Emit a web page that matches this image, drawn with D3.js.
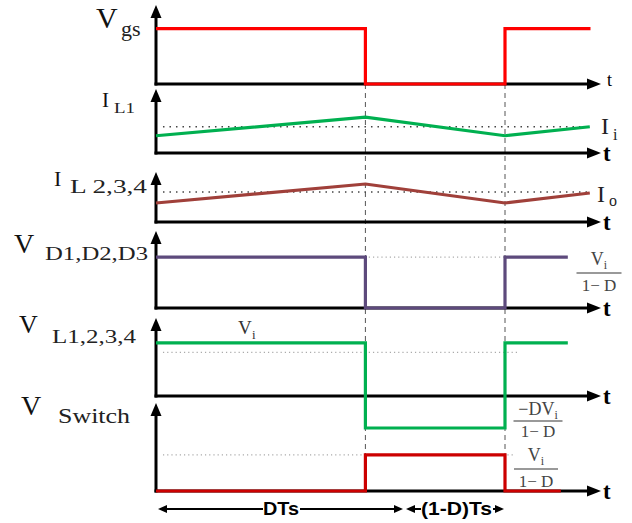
<!DOCTYPE html>
<html>
<head>
<meta charset="utf-8">
<script src="https://cdn.jsdelivr.net/npm/d3@7"></script>
<style>
  body { margin: 0; background: #fff; }
  svg { display: block; }
  .serif { font-family: "Liberation Serif", "DejaVu Serif", serif; }
  .dim { font-family: "Liberation Sans", Arial, sans-serif; font-weight: bold; }
</style>
</head>
<body>
<svg id="chart" width="632" height="523"></svg>
<script>
/* global d3 */

// time in units of the switching period T, duty D = 0.6
const edges = [0.6, 1.0];

const vgsT = [0, 0.6, 0.6, 1.0, 1.0, 1.245];
const vgsV = [0.70, 0.70, 0, 0, 0.70, 0.70];

const iL1T = [0, 0.6, 1.0, 1.243];
const iL1V = [0.27, 0.56, 0.27, 0.41];
const iiLevel = 0.41;

const iL2T = [0, 0.6, 1.0, 1.243];
const iL2V = [0.38, 0.76, 0.38, 0.58];
const ioLevel = 0.60;

const vDT = [0, 0.6, 0.6, 1.0, 1.0, 1.18];
const vDV = [0.66, 0.66, 0, 0, 0.66, 0.66];

const vLT = [0, 0.6, 0.6, 1.0, 1.0, 1.18];
const vLV = [0.68, 0.68, -0.41, -0.41, 0.68, 0.68];
const vLLevel = 0.56;

const vSwT = [0, 0.6, 0.6, 1.0, 1.0, 1.16];
const vSwV = [0, 0, 0.41, 0.41, 0, 0];

var svg = d3.select('#chart');

var x = d3.scaleLinear().domain([0, 1]).range([156, 505]);
var axisEnd = 601;

// each panel: y-axis arrow tip and baseline
var panels = [
  { top: 5, base: 84 },
  { top: 89, base: 153 },
  { top: 172, base: 222 },
  { top: 231, base: 308 },
  { top: 318, base: 396 },
  { top: 403, base: 491 }
];
panels.forEach(p => { p.y = d3.scaleLinear().domain([0, 1]).range([p.base, p.top]); });

var line = (p) => d3.line().x(d => x(d[0])).y(d => p.y(d[1]));

// dashed switching instants
svg.selectAll('line.edge')
  .data(edges)
  .enter().append('line')
  .attr('class', 'edge')
  .attr('x1', d => x(d)).attr('x2', d => x(d))
  .attr('y1', panels[0].base).attr('y2', d => d === 1.0 ? panels[5].y(0.41) : panels[5].base)
  .attr('stroke', '#555').attr('stroke-width', 1)
  .attr('stroke-dasharray', '5,4');

// reference levels (dotted)
var levels = [
  { p: 1, v: iiLevel, t0: 0.02, t1: 1.245, c: '#444', dash: '1.5,5', w: 1.5 },
  { p: 2, v: ioLevel, t0: 0.02, t1: 1.245, c: '#444', dash: '1.5,5', w: 1.5 },
  { p: 3, v: 0.66, t0: 0.02, t1: 1.037, c: '#aaa', dash: '1.2,3', w: 1.2 },
  { p: 4, v: vLLevel, t0: 0.02, t1: 1.037, c: '#aaa', dash: '1.2,3', w: 1.2 },
  { p: 5, v: 0.41, t0: 0.02, t1: 1.03, c: '#aaa', dash: '1.2,3', w: 1.2 }
];
svg.selectAll('line.level')
  .data(levels)
  .enter().append('line')
  .attr('class', 'level')
  .attr('x1', d => x(d.t0)).attr('x2', d => x(d.t1))
  .attr('y1', d => panels[d.p].y(d.v)).attr('y2', d => panels[d.p].y(d.v))
  .attr('stroke', d => d.c).attr('stroke-width', d => d.w)
  .attr('stroke-dasharray', d => d.dash);

// axes with arrow heads
panels.forEach(p => {
  var g = svg.append('g');
  g.append('line')
    .attr('x1', x(0)).attr('x2', x(0))
    .attr('y1', p.base + 1.5).attr('y2', p.top + 10)
    .attr('stroke', '#000').attr('stroke-width', 3);
  g.append('path')
    .attr('d', `M${x(0)},${p.top} L${x(0) - 5.5},${p.top + 13} L${x(0) + 5.5},${p.top + 13} Z`)
    .attr('fill', '#000');
  g.append('line')
    .attr('x1', x(0) - 1.5).attr('x2', axisEnd - 10)
    .attr('y1', p.base).attr('y2', p.base)
    .attr('stroke', '#000').attr('stroke-width', 3);
  g.append('path')
    .attr('d', `M${axisEnd},${p.base} L${axisEnd - 14},${p.base - 5.5} L${axisEnd - 14},${p.base + 5.5} Z`)
    .attr('fill', '#000');
});

// waveforms
var series = [
  { p: 0, t: vgsT, v: vgsV, c: '#ff0000' },
  { p: 1, t: iL1T, v: iL1V, c: '#00b050' },
  { p: 2, t: iL2T, v: iL2V, c: '#a0403a' },
  { p: 3, t: vDT, v: vDV, c: '#5d4a7c' },
  { p: 4, t: vLT, v: vLV, c: '#00b050' },
  { p: 5, t: vSwT, v: vSwV, c: '#cc0000' }
];
svg.selectAll('path.wave')
  .data(series)
  .enter().append('path')
  .attr('class', 'wave')
  .attr('d', d => line(panels[d.p])(d.t.map((t, i) => [t, d.v[i]])))
  .attr('fill', 'none')
  .attr('stroke', d => d.c)
  .attr('stroke-width', 3.2)
  .attr('stroke-linejoin', 'miter');

// left labels: main letter + subscript
var labels = [
  { m: 'V', mx: 96, my: 28, ms: 30, s: 'gs', sx: 121, sy: 36, ss: 22 },
  { m: 'I', mx: 102, my: 107, ms: 21, s: 'L1', sx: 114, sy: 113, ss: 15, sl: 21 },
  { m: 'I', mx: 54, my: 186, ms: 22, s: 'L 2,3,4', sx: 70, sy: 193, ss: 19, sl: 77 },
  { m: 'V', mx: 14, my: 253, ms: 28, s: 'D1,D2,D3', sx: 45, sy: 260, ss: 19, sl: 103 },
  { m: 'V', mx: 19, my: 333, ms: 26, s: 'L1,2,3,4', sx: 52, sy: 343, ss: 19, sl: 84 },
  { m: 'V', mx: 21, my: 415, ms: 28, s: 'Switch', sx: 58, sy: 423, ss: 22, sl: 72 }
];
labels.forEach(l => {
  svg.append('text').attr('class', 'serif')
    .attr('x', l.mx).attr('y', l.my).attr('font-size', l.ms).attr('fill', '#111')
    .text(l.m);
  var s = svg.append('text').attr('class', 'serif')
    .attr('x', l.sx).attr('y', l.sy).attr('font-size', l.ss).attr('fill', '#222')
    .text(l.s);
  if (l.sl) s.attr('textLength', l.sl).attr('lengthAdjust', 'spacingAndGlyphs');
});

// "t" at the end of every time axis
svg.selectAll('text.t')
  .data(panels)
  .enter().append('text')
  .attr('class', 'serif t')
  .attr('x', (d, i) => i === 0 ? 607 : 603)
  .attr('y', (d, i) => i === 0 ? d.base + 2 : d.base + 8)
  .attr('font-size', (d, i) => i === 0 ? 18 : 23)
  .attr('font-weight', (d, i) => i === 0 ? 'normal' : 'bold')
  .text('t');

// right-hand current labels
function subLabel(main, sub, mx, my, ms, sx, sy, ss, fill) {
  svg.append('text').attr('class', 'serif').attr('x', mx).attr('y', my)
    .attr('font-size', ms).attr('fill', fill).text(main);
  svg.append('text').attr('class', 'serif').attr('x', sx).attr('y', sy)
    .attr('font-size', ss).attr('fill', fill).text(sub);
}
subLabel('I', 'i', 601, 134, 24, 613, 140, 16, '#222');
subLabel('I', 'o', 597, 202, 24, 609, 206, 16, '#222');
subLabel('V', 'i', 238, 334, 19, 252, 339, 13, '#333');

// fractions
function fraction(num, numSub, cx, numY, barY, denY, w) {
  var g = svg.append('g').attr('class', 'serif').attr('fill', '#444');
  var t = g.append('text').attr('x', cx).attr('y', numY).attr('font-size', 18)
    .attr('text-anchor', 'middle');
  t.append('tspan').text(num);
  t.append('tspan').attr('font-size', 12).attr('dy', 4).text(numSub);
  g.append('line').attr('x1', cx - w / 2).attr('x2', cx + w / 2)
    .attr('y1', barY).attr('y2', barY)
    .attr('stroke', '#999').attr('stroke-width', 2);
  g.append('text').attr('x', cx).attr('y', denY).attr('font-size', 17)
    .attr('text-anchor', 'middle').text('1\u2212 D');
}
fraction('V', 'i', 599, 265, 273, 291, 45);
fraction('\u2212DV', 'i', 538, 415, 421, 437, 49);
fraction('V', 'i', 536, 461, 469, 487, 44);

// period annotation under the last panel
var dimY = 509;
function arrowHead(xTip, dir) {
  svg.append('path')
    .attr('d', `M${xTip},${dimY} L${xTip - dir * 9},${dimY - 4} L${xTip - dir * 9},${dimY + 4} Z`)
    .attr('fill', '#000');
}
var segs = [[162, 263], [300, 398], [410, 421], [493, 497]];
svg.selectAll('line.dim')
  .data(segs)
  .enter().append('line')
  .attr('class', 'dim')
  .attr('x1', d => d[0]).attr('x2', d => d[1])
  .attr('y1', dimY).attr('y2', dimY)
  .attr('stroke', '#000').attr('stroke-width', 2);
arrowHead(158, -1);
arrowHead(403, 1);
arrowHead(406, -1);
arrowHead(504, 1);
svg.append('text').attr('class', 'dim').attr('x', 263).attr('y', dimY + 6)
  .attr('font-size', 18).attr('textLength', 36).attr('lengthAdjust', 'spacingAndGlyphs').text('DTs');
svg.append('text').attr('class', 'dim').attr('x', 421).attr('y', dimY + 6)
  .attr('font-size', 18).attr('textLength', 71).attr('lengthAdjust', 'spacingAndGlyphs').text('(1-D)Ts');
</script>
</body>
</html>
